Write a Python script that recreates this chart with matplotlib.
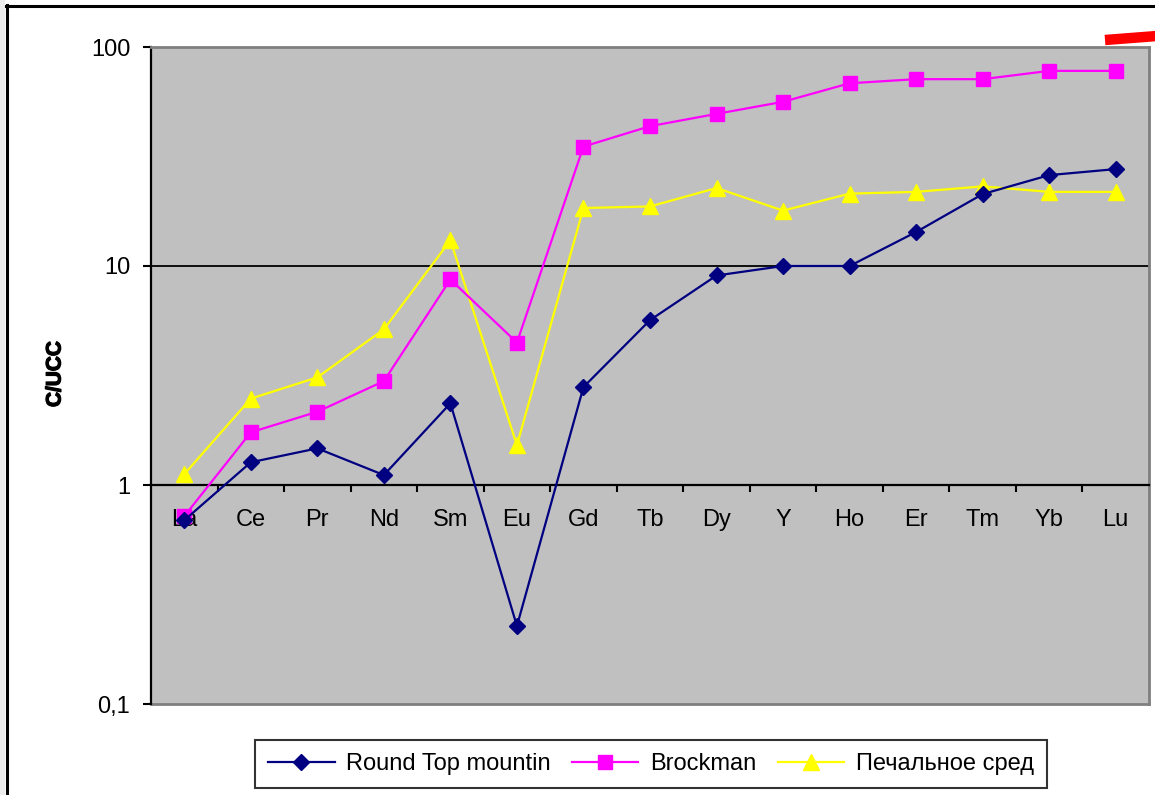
import matplotlib
matplotlib.use("Agg")
import matplotlib.pyplot as plt
from matplotlib.lines import Line2D
from matplotlib.patches import Rectangle
from matplotlib import patheffects

plt.rcParams['font.family'] = ['Liberation Sans', 'DejaVu Sans']

elements = ["La", "Ce", "Pr", "Nd", "Sm", "Eu", "Gd", "Tb", "Dy", "Y",
            "Ho", "Er", "Tm", "Yb", "Lu"]

round_top = [0.69, 1.27, 1.47, 1.11, 2.36, 0.227, 2.80, 5.66, 9.05, 10.0,
             10.0, 14.3, 21.3, 26.0, 27.7]
brockman = [0.72, 1.74, 2.16, 2.98, 8.68, 4.47, 35.1, 43.5, 49.5, 56.2,
            68.3, 71.3, 71.3, 77.8, 77.8]
pechalnoe = [1.12, 2.48, 3.10, 5.14, 13.1, 1.52, 18.4, 18.7, 22.7, 17.9,
             21.4, 21.8, 23.1, 21.8, 21.8]

series_names = ["Round Top mountin", "Brockman", "Печальное сред"]

y_ticks = [0.1, 1, 10, 100]
y_ticklabels = ["0,1", "1", "10", "100"]

W, H = 1155, 795
fig = plt.figure(figsize=(W / 100, H / 100), dpi=100)
fig.patch.set_facecolor("white")

# outer chart frame
fig.add_artist(Rectangle((0, 0), 5 / W, 1, transform=fig.transFigure,
                         facecolor="#ececec", edgecolor="none", zorder=0))
fig.add_artist(Line2D([6.5 / W, 6.5 / W], [0, 1 - 5 / H], transform=fig.transFigure,
                      color="black", lw=2.2))
fig.add_artist(Line2D([6 / W, 1], [1 - 5.5 / H, 1 - 5.5 / H], transform=fig.transFigure,
                      color="black", lw=2.2))

left, right, top, bottom = 151, 1149, 47, 704
ax = fig.add_axes([left / W, 1 - bottom / H, (right - left) / W, (bottom - top) / H])
ax.set_facecolor("#c0c0c0")
ax.set_yscale("log")
ax.set_ylim(0.1, 100)
ax.set_xlim(-0.5, len(elements) - 0.5)

x = list(range(len(elements)))
ax.plot(x, round_top, color="#000080", lw=1.6, marker="D", ms=8.5,
        mfc="#000080", mec="#000080", label=series_names[0], zorder=5)
ax.plot(x, brockman, color="#ff00ff", lw=1.6, marker="s", ms=10,
        mfc="#ff00ff", mec="#ff00ff", label=series_names[1], zorder=4)
ax.plot(x, pechalnoe, color="#ffff00", lw=1.6, marker="^", ms=12,
        mfc="#ffff00", mec="#ffff00", label=series_names[2], zorder=3)

# horizontal gridline
ax.axhline(10, color="black", lw=1.3, zorder=1)

# frame: black left axis, grey top/right/bottom
for s in ["top", "right"]:
    ax.spines[s].set_color("#808080")
    ax.spines[s].set_linewidth(2)
ax.spines["left"].set_color("black")
ax.spines["left"].set_linewidth(1.6)
ax.spines["bottom"].set_position(("data", 1))
ax.spines["bottom"].set_color("black")
ax.spines["bottom"].set_linewidth(1.6)
ax.add_line(Line2D([0, 1], [0, 0], transform=ax.transAxes, color="#808080",
                   lw=2, clip_on=False, zorder=2))

ax.set_yticks(y_ticks)
ax.set_yticklabels(y_ticklabels)
ax.yaxis.set_minor_locator(matplotlib.ticker.NullLocator())
ax.tick_params(axis="y", which="major", direction="out", length=6, width=1.5,
               labelsize=17, pad=9)

ax.set_xticks([i + 0.5 for i in range(len(elements) - 1)])
ax.set_xticklabels([])
ax.set_xticks(x, minor=True)
ax.set_xticklabels(elements, minor=True)
ax.tick_params(axis="x", which="minor", length=0, labelsize=17, pad=17)
ax.tick_params(axis="x", which="major", direction="out", length=5, width=1.5)

ylab = fig.text(55 / W, 1 - 374 / H, "C/UCC", rotation=90, ha="center",
                va="center", fontsize=15, fontweight="bold")
ylab.set_path_effects([patheffects.withStroke(linewidth=0.9, foreground="black")])

leg = fig.legend(loc="center", bbox_to_anchor=(651 / W, 1 - 764 / H), ncol=3,
                 fontsize=17, frameon=True, fancybox=False, handlelength=2.8,
                 columnspacing=0.9, handletextpad=0.5, borderpad=0.55,
                 borderaxespad=0)
leg.get_frame().set_edgecolor("black")
leg.get_frame().set_linewidth(1.5)

# red pen stroke at top right
fig.add_artist(Line2D([1105 / W, 1 + 2 / W], [1 - 40 / H, 1 - 36 / H],
                      transform=fig.transFigure, color="#ff0000", lw=7.5,
                      solid_capstyle="butt"))

fig.savefig("out.png", dpi=100)
